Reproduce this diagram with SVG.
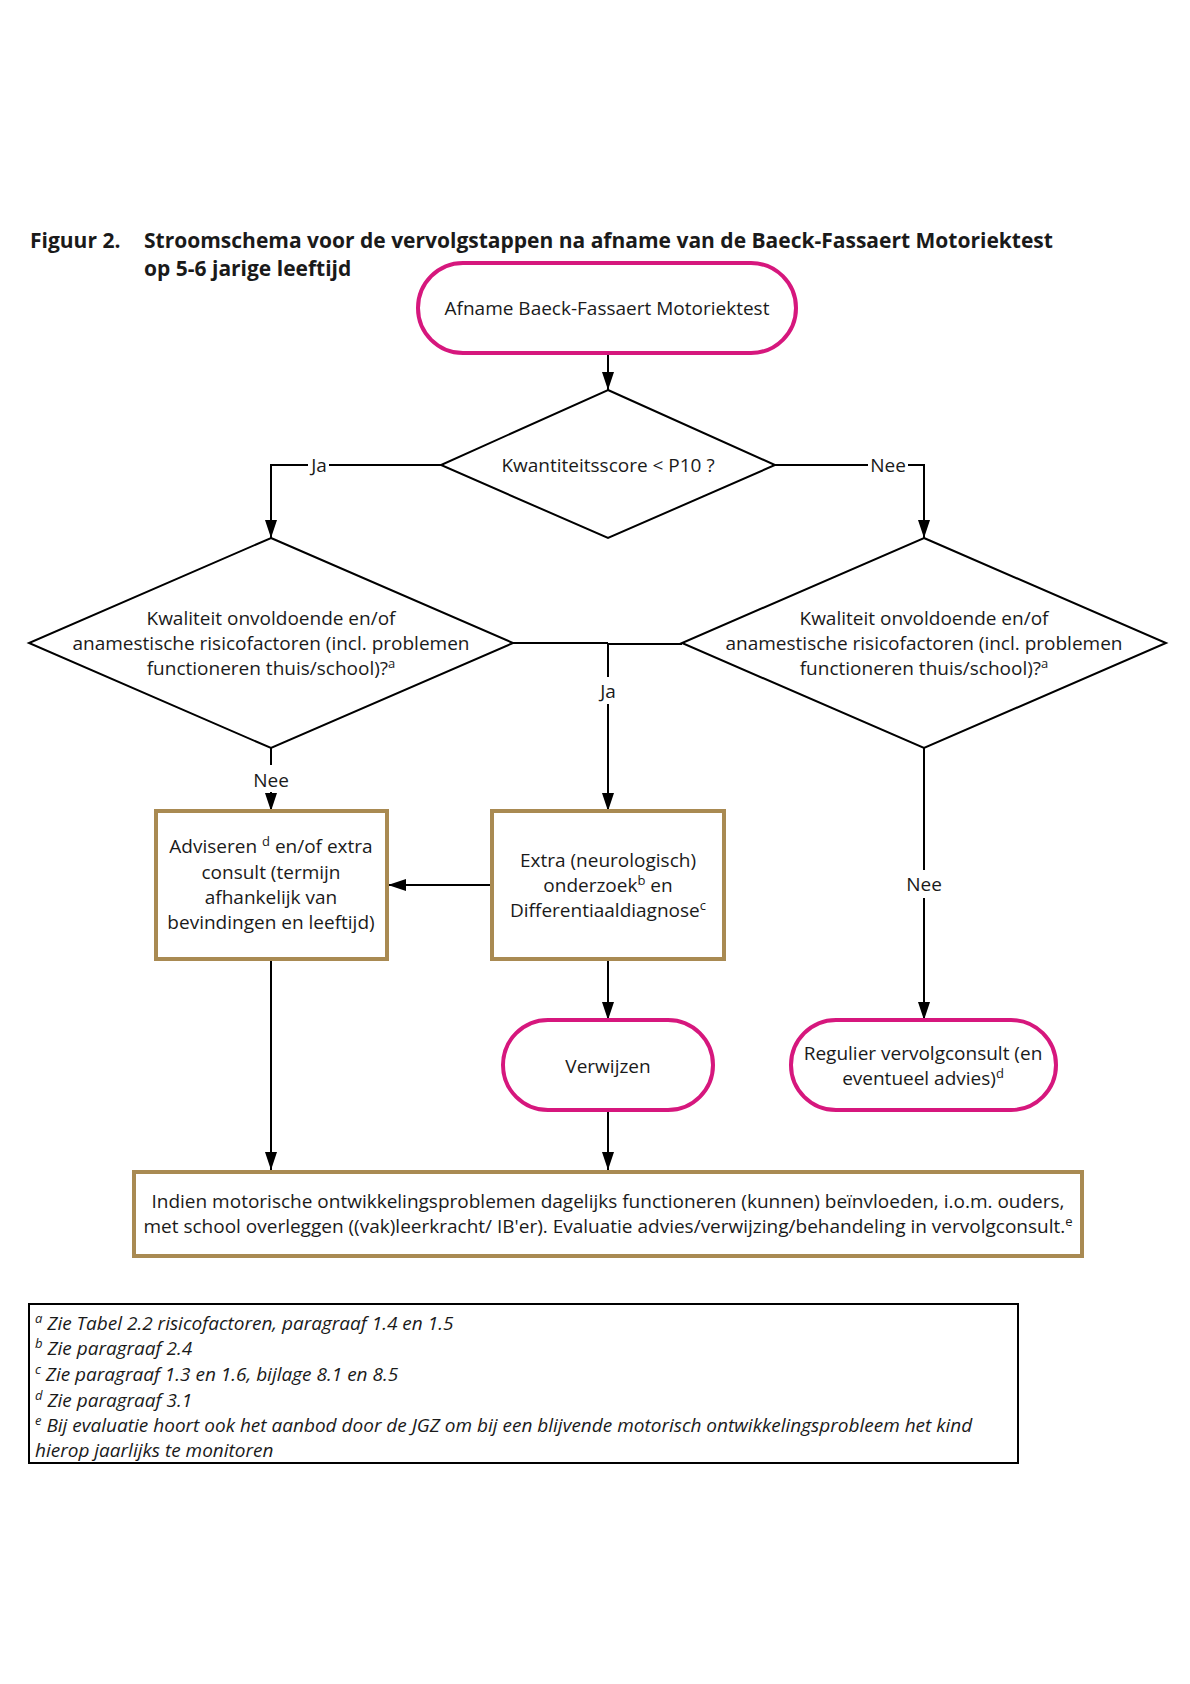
<svg xmlns="http://www.w3.org/2000/svg" width="1190" height="1684" viewBox="0 0 1190 1684">
<style>
text{font-family:"Open Sans","Noto Sans","Liberation Sans",sans-serif;font-size:19px;fill:#1a1a1a}
.c{text-anchor:middle}
.title{font-weight:bold;font-size:21px}
.fn{font-style:italic}
.sup{font-size:13px}
.term{fill:#fff;stroke:#D6177D;stroke-width:4}
.box{fill:#fff;stroke:#A98A52;stroke-width:4}
.dia{fill:#fff;stroke:#000;stroke-width:2}
.con{fill:none;stroke:#000;stroke-width:2}
.lbg{fill:#fff}
</style>
<defs>
<marker id="ah" markerUnits="userSpaceOnUse" markerWidth="18" markerHeight="12" refX="18" refY="6" orient="auto">
<path d="M0,0 L18,6 L0,12 z" fill="#000"/>
</marker>
</defs>
<rect width="1190" height="1684" fill="#fff"/>
<g id="title">
<text class="title" x="30" y="248">Figuur 2.</text>
<text class="title" x="144" y="248">Stroomschema voor de vervolgstappen na afname van de Baeck-Fassaert Motoriektest</text>
<text class="title" x="144" y="276">op 5-6 jarige leeftijd</text>
</g>
<g id="connectors">
<line class="con" x1="608" y1="353" x2="608" y2="390" marker-end="url(#ah)"/>
<path class="con" d="M441,465 H271 V538" marker-end="url(#ah)"/>
<path class="con" d="M775,465 H924 V538" marker-end="url(#ah)"/>
<path class="con" d="M513,643 H608 M682,644 H608"/>
<line class="con" x1="608" y1="643" x2="608" y2="811" marker-end="url(#ah)"/>
<line class="con" x1="271" y1="748" x2="271" y2="811" marker-end="url(#ah)"/>
<line class="con" x1="492" y1="885" x2="388" y2="885" marker-end="url(#ah)"/>
<line class="con" x1="924" y1="748" x2="924" y2="1020" marker-end="url(#ah)"/>
<line class="con" x1="271" y1="959" x2="271" y2="1170" marker-end="url(#ah)"/>
<line class="con" x1="608" y1="959" x2="608" y2="1020" marker-end="url(#ah)"/>
<line class="con" x1="608" y1="1110" x2="608" y2="1170" marker-end="url(#ah)"/>
<rect class="lbg" x="308" y="456" width="21" height="20"/>
<text class="c" x="319" y="472">Ja</text>
<rect class="lbg" x="868" y="456" width="40" height="20"/>
<text class="c" x="888" y="472">Nee</text>
<rect class="lbg" x="596" y="677" width="24" height="27"/>
<text class="c" x="608" y="698">Ja</text>
<rect class="lbg" x="251" y="765" width="40" height="27"/>
<text class="c" x="271" y="787">Nee</text>
<rect class="lbg" x="904" y="870" width="40" height="28"/>
<text class="c" x="924" y="891">Nee</text>
</g>
<g id="start">
<rect class="term" x="418" y="263" width="378" height="90" rx="45"/>
<text class="c" x="607" y="315">Afname Baeck-Fassaert Motoriektest</text>
</g>
<g id="decision-score">
<polygon class="dia" points="608,390 775,465 608,538 441,465"/>
<text class="c" x="608" y="472">Kwantiteitsscore &lt; P10 ?</text>
</g>
<g id="decision-left">
<polygon class="dia" points="271,538 513,643 271,748 29,643"/>
<text class="c" x="271" y="625">Kwaliteit onvoldoende en/of</text>
<text class="c" x="271" y="650">anamestische risicofactoren (incl. problemen</text>
<text class="c" x="271" y="675">functioneren thuis/school)?<tspan class="sup" dy="-7">a</tspan></text>
</g>
<g id="decision-right">
<polygon class="dia" points="924,538 1166,643 924,748 682,643"/>
<text class="c" x="924" y="625">Kwaliteit onvoldoende en/of</text>
<text class="c" x="924" y="650">anamestische risicofactoren (incl. problemen</text>
<text class="c" x="924" y="675">functioneren thuis/school)?<tspan class="sup" dy="-7">a</tspan></text>
</g>
<g id="advise">
<rect class="box" x="156" y="811" width="231" height="148"/>
<text class="c" x="271" y="853">Adviseren <tspan class="sup" dy="-7">d</tspan><tspan dy="7"> en/of extra</tspan></text>
<text class="c" x="271" y="879">consult (termijn</text>
<text class="c" x="271" y="904">afhankelijk van</text>
<text class="c" x="271" y="929">bevindingen en leeftijd)</text>
</g>
<g id="extra">
<rect class="box" x="492" y="811" width="232" height="148"/>
<text class="c" x="608" y="867">Extra (neurologisch)</text>
<text class="c" x="608" y="892">onderzoek<tspan class="sup" dy="-7">b</tspan><tspan dy="7"> en</tspan></text>
<text class="c" x="608" y="917">Differentiaaldiagnose<tspan class="sup" dy="-7">c</tspan></text>
</g>
<g id="refer">
<rect class="term" x="503" y="1020" width="210" height="90" rx="45"/>
<text class="c" x="608" y="1073">Verwijzen</text>
</g>
<g id="regular">
<rect class="term" x="791" y="1020" width="265" height="90" rx="45"/>
<text class="c" x="923" y="1060">Regulier vervolgconsult (en</text>
<text class="c" x="923" y="1085">eventueel advies)<tspan class="sup" dy="-7">d</tspan></text>
</g>
<g id="school">
<rect class="box" x="134" y="1172" width="948" height="84"/>
<text class="c" x="608" y="1208">Indien motorische ontwikkelingsproblemen dagelijks functioneren (kunnen) beïnvloeden, i.o.m. ouders,</text>
<text class="c" x="608" y="1233">met school overleggen ((vak)leerkracht/ IB'er). Evaluatie advies/verwijzing/behandeling in vervolgconsult.<tspan class="sup" dy="-7">e</tspan></text>
</g>
<g id="footnotes">
<rect x="29" y="1304" width="989" height="159" fill="#fff" stroke="#000" stroke-width="2"/>
<text class="fn" x="35" y="1330"><tspan class="sup" dy="-7">a</tspan><tspan dy="7"> Zie Tabel 2.2 risicofactoren, paragraaf 1.4 en 1.5</tspan></text>
<text class="fn" x="35" y="1355"><tspan class="sup" dy="-7">b</tspan><tspan dy="7"> Zie paragraaf 2.4</tspan></text>
<text class="fn" x="35" y="1381"><tspan class="sup" dy="-7">c</tspan><tspan dy="7"> Zie paragraaf 1.3 en 1.6, bijlage 8.1 en 8.5</tspan></text>
<text class="fn" x="35" y="1407"><tspan class="sup" dy="-7">d</tspan><tspan dy="7"> Zie paragraaf 3.1</tspan></text>
<text class="fn" x="35" y="1432"><tspan class="sup" dy="-7">e</tspan><tspan dy="7"> Bij evaluatie hoort ook het aanbod door de JGZ om bij een blijvende motorisch ontwikkelingsprobleem het kind</tspan></text>
<text class="fn" x="35" y="1457">hierop jaarlijks te monitoren</text>
</g>
</svg>
